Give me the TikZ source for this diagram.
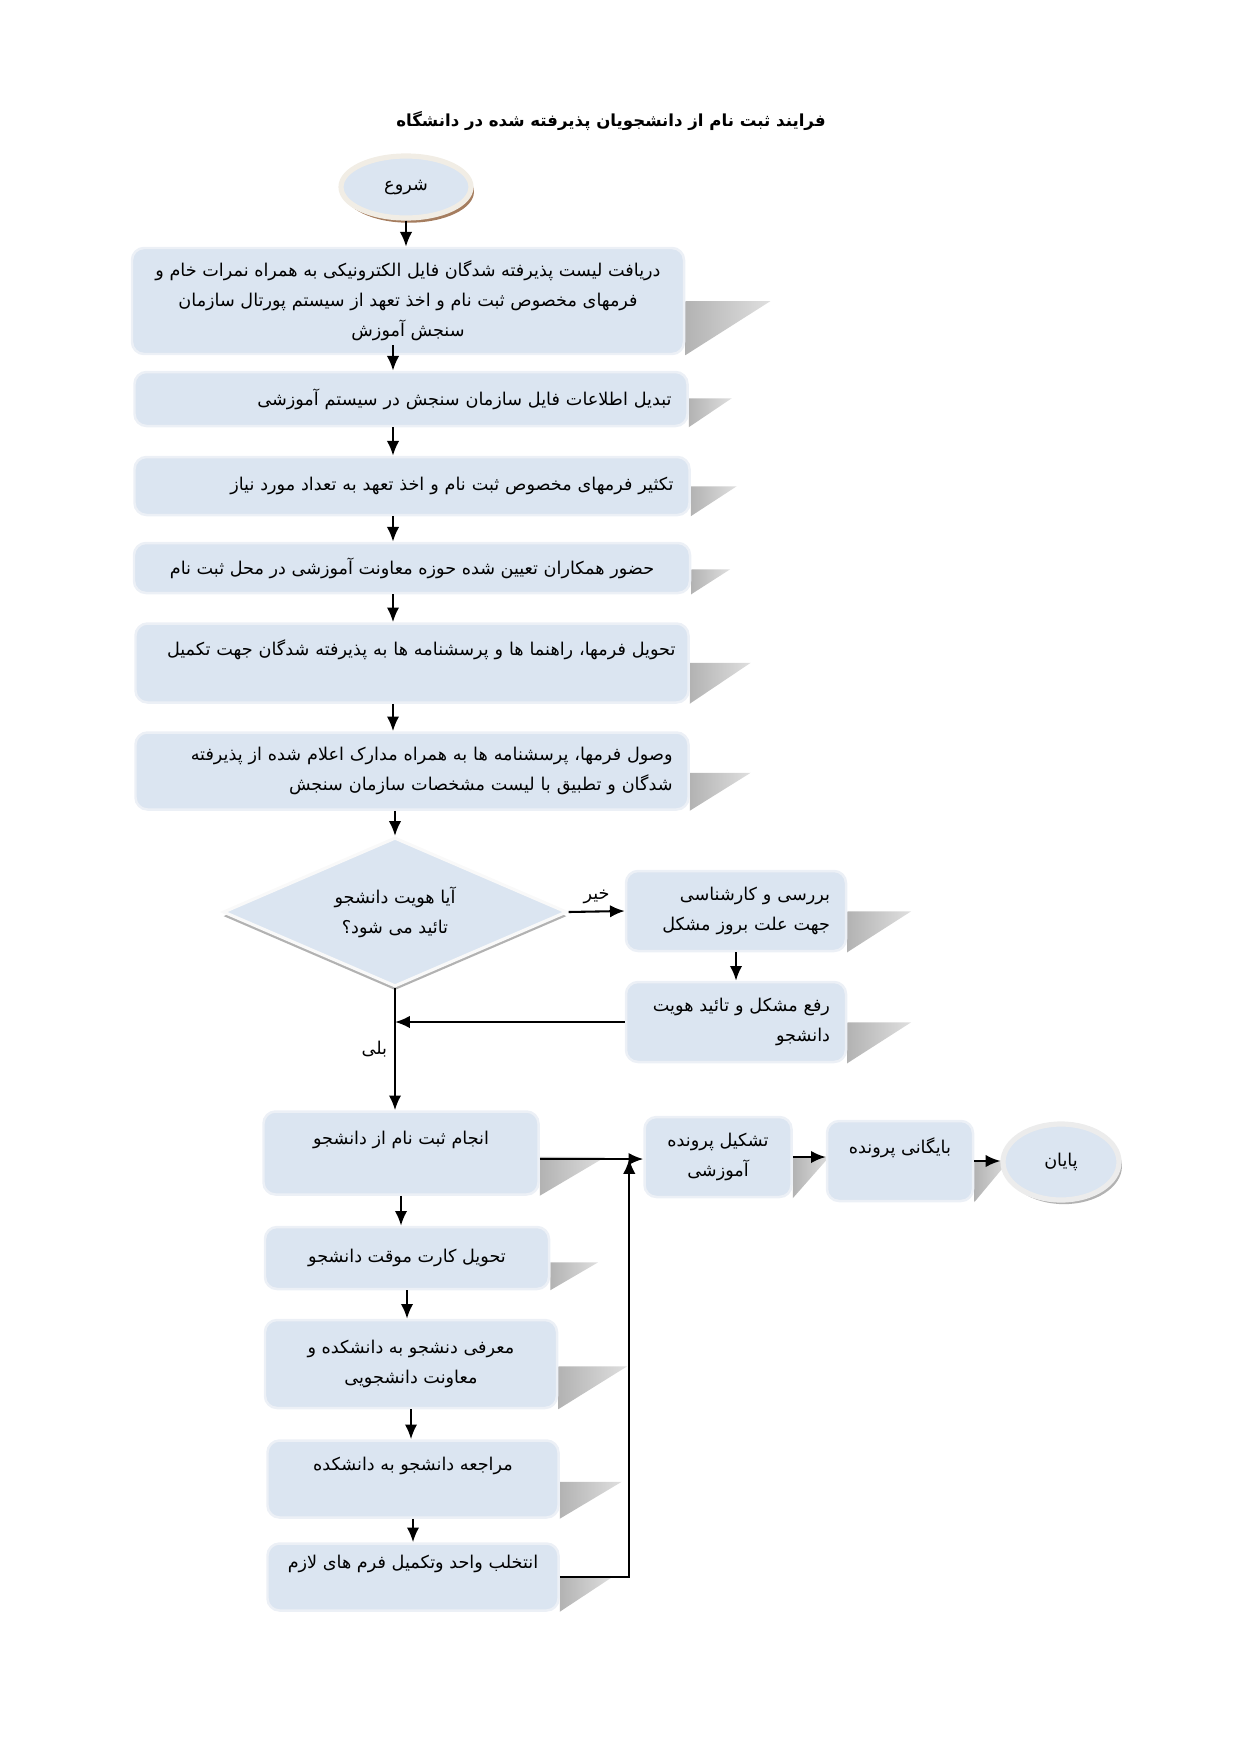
\documentclass[tikz,border=0pt]{standalone}
\usepackage{fontspec}
\newfontfamily\arabicfont[Script=Arabic]{DejaVu Sans}
\TeXXeTstate=1
\usetikzlibrary{shapes.geometric, shadows, backgrounds, arrows.meta, positioning}

\definecolor{boxblue}{RGB}{219,229,241}
\definecolor{boxedge}{RGB}{236,240,246}
\definecolor{startring}{RGB}{241,237,229}
\definecolor{startshade}{RGB}{165,125,95}
\definecolor{endring}{RGB}{236,236,236}

\newlength\pxu
\setlength\pxu{0.16935mm}
\newcommand\fatext[1]{\beginR #1\endR}
% wedge shadow right of a box: node, width, height
\newcommand\boxshadow[3]{%
  \shade[left color=gray!60, right color=gray!25] (#1.south east) -- ++(0,-#3) -- ++(#2,0) -- cycle;}

\begin{document}
\begin{tikzpicture}[>={Latex[length=2.5mm, width=2.1mm]}, x=\pxu, y=-\pxu,
  font=\arabicfont\fontsize{8.5}{14.5}\selectfont,
  stepbox/.style={rectangle, rounded corners=12\pxu, fill=boxblue, draw=boxedge, line width=1.2pt, inner sep=0pt, align=center},
  rightbox/.style={stepbox, align=right, text width=#1},
  flow/.style={->, line width=1pt}]
\useasboundingbox (0,0) rectangle (1240,1754);
\node[font=\arabicfont\bfseries\fontsize{8}{12}\selectfont] (title) at (611,121) {\fatext{فرایند ثبت نام از دانشجویان پذیرفته شده در دانشگاه}};
%
\node[ellipse, fill=boxblue, draw=startring, line width=2.5pt, minimum width=130\pxu, minimum height=62\pxu, inner sep=0pt,
  drop shadow={shadow xshift=0.5mm, shadow yshift=-0.8mm, fill=startshade, opacity=1}] (start) at (406,187) {\fatext{شروع}};
\node[stepbox, minimum width=552\pxu, minimum height=106\pxu] (b1) at (408,301) {\fatext{دریافت لیست پذیرفته شدگان فایل الکترونیکی به همراه نمرات خام و}\\ \fatext{فرمهای مخصوص ثبت نام و اخذ تعهد از سیستم پورتال سازمان}\\ \fatext{سنجش آموزش}};
\node[rightbox=521\pxu, minimum width=553\pxu, minimum height=54\pxu] (b2) at (411,399) {\fatext{تبدیل اطلاعات فایل سازمان سنجش در سیستم آموزشی}};
\node[rightbox=523\pxu, minimum width=555\pxu, minimum height=58\pxu] (b3) at (412,486) {\fatext{تکثیر فرمهای مخصوص ثبت نام و اخذ تعهد به تعداد مورد نیاز}};
\node[stepbox, minimum width=556\pxu, minimum height=50\pxu] (b4) at (412,568) {\fatext{حضور همکاران تعیین شده حوزه معاونت آموزشی در محل ثبت نام}};
\node[rightbox=527\pxu, minimum width=553\pxu, minimum height=79\pxu] (b5) at (412,663) {\fatext{تحویل فرمها، راهنما ها و پرسشنامه ها به پذیرفته شدگان جهت تکمیل}\\ ~};
\node[rightbox=521\pxu, minimum width=553\pxu, minimum height=77\pxu] (b6) at (412,771) {\fatext{وصول فرمها، پرسشنامه ها به همراه مدارک اعلام شده از پذیرفته}\\ \fatext{شدگان و تطبیق با لیست مشخصات سازمان سنجش}};
%
\node[diamond, aspect=2.3, fill=boxblue, draw=white!95!gray, line width=1.5pt, minimum width=344\pxu, minimum height=149\pxu, inner sep=0pt, align=center,
  drop shadow={shadow xshift=0mm, shadow yshift=-0.7mm, fill=gray!60, opacity=1}] (dec) at (395,912) {\fatext{آیا هویت دانشجو}\\ \fatext{تائید می شود؟}};
\node[rightbox=188\pxu, minimum width=220\pxu, minimum height=80\pxu] (b7) at (736,911) {\fatext{بررسی و کارشناسی}\\ \fatext{جهت علت بروز مشکل}};
\node[rightbox=188\pxu, minimum width=220\pxu, minimum height=80\pxu] (b8) at (736,1022) {\fatext{رفع مشکل و تائید هویت}\\ \fatext{دانشجو}};
%
\node[stepbox, minimum width=275\pxu, minimum height=83\pxu] (b9) at (401,1153) {\fatext{انجام ثبت نام از دانشجو}\\ ~};
\node[stepbox, minimum width=147\pxu, minimum height=80\pxu] (b10) at (718,1157) {\fatext{تشکیل پرونده}\\ \fatext{آموزشی}};
\node[stepbox, minimum width=146\pxu, minimum height=80\pxu] (b11) at (900,1161) {\fatext{بایگانی پرونده}\\ ~};
\node[ellipse, fill=boxblue, draw=endring, line width=2.5pt, minimum width=116\pxu, minimum height=76\pxu, inner sep=0pt,
  drop shadow={shadow xshift=0.5mm, shadow yshift=-0.7mm, fill=gray!60, opacity=1}] (end) at (1061,1162) {\fatext{پایان}};
\node[stepbox, minimum width=284\pxu, minimum height=62\pxu] (b12) at (407,1258) {\fatext{تحویل کارت موقت دانشجو}};
\node[stepbox, minimum width=292\pxu, minimum height=88\pxu] (b13) at (411,1364) {\fatext{معرفی دنشجو به دانشکده و}\\ \fatext{معاونت دانشجویی}};
\node[stepbox, minimum width=291\pxu, minimum height=77\pxu] (b14) at (413,1479) {\fatext{مراجعه دانشجو به دانشکده}\\ ~};
\node[stepbox, minimum width=291\pxu, minimum height=67\pxu] (b15) at (413,1577) {\fatext{انتخلب واحد وتکمیل فرم های لازم}\\ ~};
%
\begin{scope}[on background layer]
\boxshadow{b1}{85}{54}
\boxshadow{b2}{43}{29}
\boxshadow{b3}{46}{30}
\boxshadow{b4}{39}{25}
\boxshadow{b5}{61}{41}
\boxshadow{b6}{61}{38}
\boxshadow{b7}{64}{41}
\boxshadow{b8}{64}{41}
\boxshadow{b9}{66}{39}
\boxshadow{b10}{37}{42}
\boxshadow{b11}{35}{42}
\boxshadow{b12}{48}{28}
\boxshadow{b13}{69}{43}
\boxshadow{b14}{62}{37}
\boxshadow{b15}{53}{35}
\end{scope}
%
\coordinate (spine) at (393,0);
\coordinate (join) at ([yshift=-6\pxu]b9.east);
\coordinate (merge) at ([xshift=-14\pxu]join -| b10.west);
\draw[flow] (start.south) -- (start.south |- b1.north);
\draw[flow] ([yshift=10\pxu]b1.south -| spine) -- (b2.north -| spine);
\draw[flow] (b2.south -| spine) -- (b3.north -| spine);
\draw[flow] (b3.south -| spine) -- (b4.north -| spine);
\draw[flow] (b4.south -| spine) -- (b5.north -| spine);
\draw[flow] (b5.south -| spine) -- (b6.north -| spine);
\draw[flow] (b6.south -| dec.north) -- (dec.north);
\draw[flow] (dec.east) -- (b7.west) node[midway, above] (no) {\fatext{خیر}};
\draw[flow] (b7.south) -- (b8.north);
\draw[flow] (b8.west) -- (b8.west -| dec.south);
\draw[flow] (dec.south) -- (dec.south |- b9.north) node[midway, left] (yes) {\fatext{بلی}};
\draw[flow] (join) -- (join -| b10.west);
\draw[flow] (b15.east) -| (merge);
\draw[flow] (b10.east) -- (b10.east -| b11.west);
\draw[flow] (b11.east) -- (b11.east -| end.west);
\draw[flow] (b9.south) -- (b9.south |- b12.north);
\draw[flow] (b12.south) -- (b12.south |- b13.north);
\draw[flow] (b13.south) -- (b13.south |- b14.north);
\draw[flow] (b14.south) -- (b14.south |- b15.north);
\end{tikzpicture}
\end{document}
